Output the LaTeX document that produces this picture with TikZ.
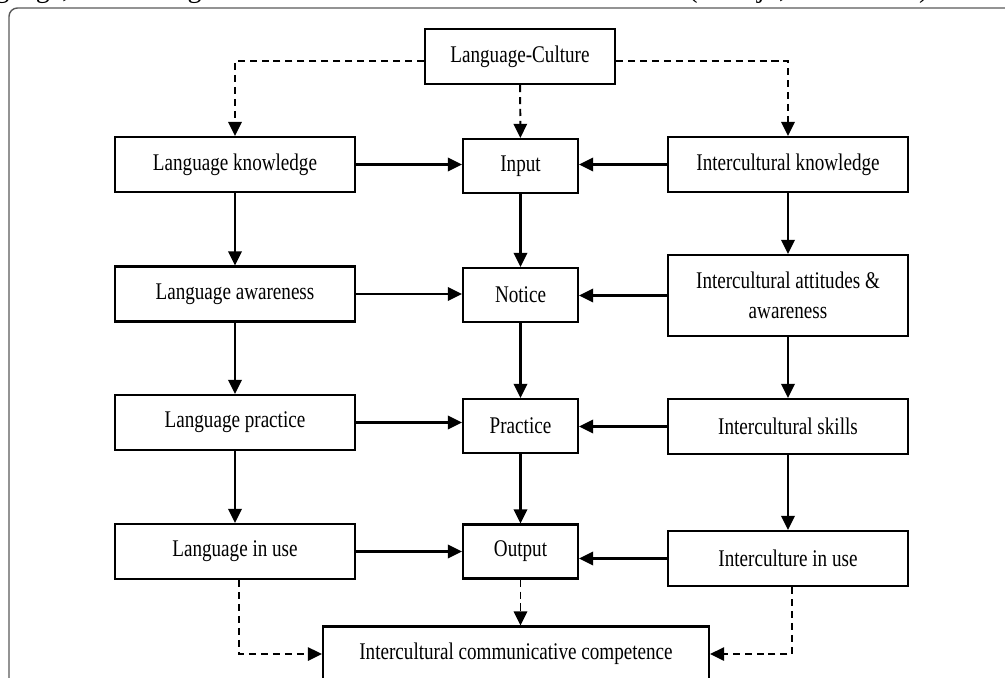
\documentclass[tikz,border=0pt]{standalone}
\usepackage{fontspec}
\setmainfont{Liberation Serif}
\newfontfamily\figfont[FakeStretch=0.8]{Liberation Serif}
\usetikzlibrary{arrows.meta}

\tikzset{
  box/.style={draw, line width=1.5pt, minimum height=1.375cm, inner sep=2pt,
    align=center, font=\figfont\fontsize{17}{21.3}\selectfont},
  link/.style={line width=1.7pt, -{Triangle[length=10pt,width=9.5pt]}},
  dlink/.style={link, line width=1.4pt, dash pattern=on 5pt off 3.5pt},
}

\begin{document}
\begin{tikzpicture}[x=0.025cm, y=-0.025cm]
  \useasboundingbox (0,0) rectangle (1005,677);
  % page text, cut by the top edge
  \node[anchor=base west, inner sep=0pt, font=\fontsize{20}{24}\selectfont] (pagetext) at (-5,-3)
    {\makebox[23.5cm][s]{guage, and setting out in the curriculum and students' needs (Chanjo, et al. 2019).}};
  \draw[gray!70!black, line width=1pt, rounded corners=6pt] (9,700) |- (1020,8);

  \node[box, minimum width=4.75cm] (lc) at (520,56.5) {Language-Culture};

  % left column
  \node[box, minimum width=6cm] (lknow) at (235,164.5) {Language knowledge};
  \node[box, minimum width=6cm] (laware) at (235,294) {Language awareness};
  \node[box, minimum width=6cm] (lprac) at (235,422.5) {Language practice};
  \node[box, minimum width=6cm] (luse) at (235,551.5) {Language in use};

  % middle column
  \node[box, minimum width=2.875cm, minimum height=1.35cm] (input) at (520.5,166) {Input};
  \node[box, minimum width=2.875cm, minimum height=1.35cm] (notice) at (520.5,295) {Notice};
  \node[box, minimum width=2.875cm, minimum height=1.35cm] (practice) at (520.5,426) {Practice};
  \node[box, minimum width=2.875cm, minimum height=1.35cm] (output) at (520.5,551.5) {Output};

  % right column
  \node[box, minimum width=6cm] (iknow) at (788,164.5) {Intercultural knowledge};
  \node[box, minimum width=6cm, minimum height=2.025cm] (iatt) at (788,295.5) {Intercultural attitudes \&\\awareness};
  \node[box, minimum width=6cm] (iskill) at (788,426.5) {Intercultural skills};
  \node[box, minimum width=6cm] (iuse) at (788,558.5) {Interculture in use};

  \node[box, minimum width=9.65cm] (icc) at (516,654) {Intercultural communicative competence};

  % dashed links
  \draw[dlink] ([yshift=-3pt]lc.west) -| (lknow.north);
  \draw[dlink] ([yshift=-3pt]lc.east) -| (iknow.north);
  \draw[dlink] (lc) -- (input);
  \draw[dlink] ([xshift=3pt]luse.south) |- (icc.west);
  \draw[dlink] ([xshift=3pt]iuse.south) |- (icc.east);
  \draw[dlink] (output.south) -- (output.south |- icc.north);

  % vertical links
  \draw[link] (lknow) -- (laware);
  \draw[link] (laware) -- (lprac);
  \draw[link] (lprac) -- (luse);
  \draw[link] (input) -- (notice);
  \draw[link] (notice) -- (practice);
  \draw[link] (practice) -- (output);
  \draw[link] (iknow) -- (iatt);
  \draw[link] (iatt) -- (iskill);
  \draw[link] (iskill) -- (iuse);

  % horizontal links
  \draw[link] (lknow.east) -- (lknow.east -| input.west);
  \draw[link] (laware.east) -- (laware.east -| notice.west);
  \draw[link] (lprac.east) -- (lprac.east -| practice.west);
  \draw[link] (luse.east) -- (luse.east -| output.west);
  \draw[link] (iknow.west) -- (iknow.west -| input.east);
  \draw[link] (iatt.west) -- (iatt.west -| notice.east);
  \draw[link] (iskill.west) -- (iskill.west -| practice.east);
  \draw[link] (iuse.west) -- (iuse.west -| output.east);
\end{tikzpicture}
\end{document}
